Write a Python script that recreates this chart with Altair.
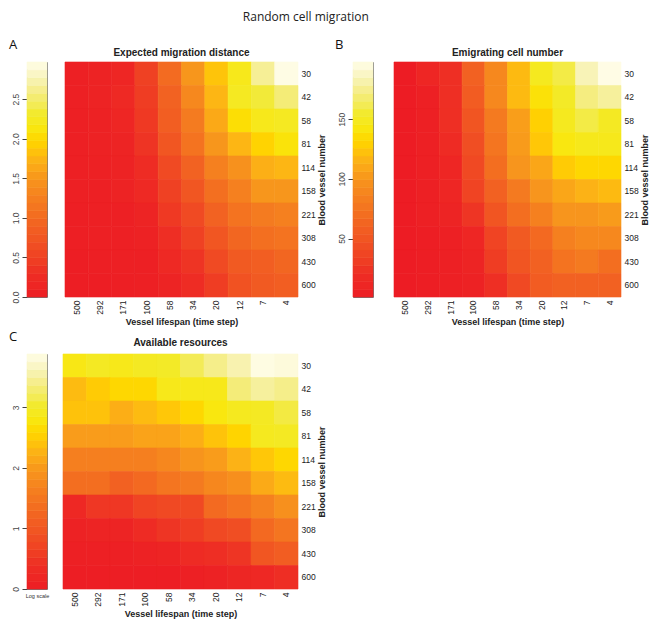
import altair as alt
import pandas as pd

lifespans = ["500", "292", "171", "100", "58", "34", "20", "12", "7", "4"]
vessels = ["30", "42", "58", "81", "114", "158", "221", "308", "430", "600"]

# Panel A: expected migration distance (rows = vessels top->bottom, cols = lifespans)
dist_30 = [0.05, 0.10, 0.15, 0.50, 1.00, 1.50, 1.85, 2.20, 2.65, 2.95]
dist_42 = [0.05, 0.10, 0.20, 0.45, 0.90, 1.35, 1.75, 2.25, 2.35, 2.55]
dist_58 = [0.05, 0.08, 0.15, 0.40, 0.85, 1.20, 1.65, 2.05, 2.20, 2.25]
dist_81 = [0.05, 0.08, 0.12, 0.35, 0.75, 1.10, 1.50, 1.75, 1.95, 2.10]
dist_114 = [0.05, 0.07, 0.10, 0.25, 0.60, 0.90, 1.25, 1.45, 1.70, 1.75]
dist_158 = [0.05, 0.06, 0.10, 0.20, 0.50, 0.75, 1.05, 1.25, 1.50, 1.50]
dist_221 = [0.04, 0.05, 0.06, 0.12, 0.40, 0.60, 0.90, 1.10, 1.20, 1.25]
dist_308 = [0.04, 0.05, 0.05, 0.08, 0.30, 0.50, 0.75, 0.95, 1.05, 1.10]
dist_430 = [0.03, 0.04, 0.05, 0.06, 0.20, 0.35, 0.60, 0.80, 0.85, 0.95]
dist_600 = [0.03, 0.03, 0.04, 0.05, 0.12, 0.25, 0.45, 0.70, 0.80, 0.85]

# Panel B: emigrating cell number
emig_30 = [1, 11, 21, 60, 90, 119, 149, 159, 184, 197]
emig_42 = [1, 5, 21, 56, 90, 119, 139, 153, 172, 178]
emig_58 = [1, 5, 21, 50, 80, 105, 129, 149, 159, 151]
emig_81 = [1, 5, 17, 44, 76, 103, 125, 143, 147, 147]
emig_114 = [1, 5, 11, 40, 70, 100, 109, 127, 133, 133]
emig_158 = [1, 5, 11, 36, 60, 80, 100, 109, 115, 119]
emig_221 = [1, 5, 9, 25, 50, 70, 84, 100, 100, 103]
emig_308 = [1, 3, 5, 11, 36, 54, 66, 84, 90, 90]
emig_430 = [1, 3, 5, 9, 31, 50, 60, 74, 80, 70]
emig_600 = [1, 3, 5, 7, 21, 40, 56, 60, 60, 60]

# Panel C: available resources (log scale)
res_30 = [2.83, 2.95, 2.87, 2.95, 2.99, 3.18, 3.41, 3.57, 3.84, 3.80]
res_42 = [2.33, 2.48, 2.60, 2.60, 2.87, 2.87, 2.87, 3.34, 3.49, 3.41]
res_58 = [2.40, 2.40, 2.21, 2.33, 2.44, 2.60, 2.79, 2.91, 2.95, 3.10]
res_81 = [2.02, 2.02, 2.02, 2.10, 2.10, 2.21, 2.41, 2.56, 2.91, 2.95]
res_114 = [1.63, 1.63, 1.63, 1.63, 1.75, 1.94, 2.02, 2.25, 2.44, 2.60]
res_158 = [1.36, 1.36, 1.16, 1.28, 1.47, 1.55, 1.75, 1.86, 2.17, 2.33]
res_221 = [0.25, 0.50, 0.50, 0.70, 0.78, 0.78, 1.30, 1.45, 1.65, 1.88]
res_308 = [0.12, 0.16, 0.16, 0.31, 0.47, 0.58, 0.78, 0.85, 1.28, 1.47]
res_430 = [0.08, 0.08, 0.08, 0.12, 0.16, 0.31, 0.39, 0.47, 0.97, 1.09]
res_600 = [0.04, 0.04, 0.04, 0.04, 0.04, 0.08, 0.12, 0.19, 0.23, 0.39]

dist_rows = [dist_30, dist_42, dist_58, dist_81, dist_114, dist_158, dist_221, dist_308, dist_430, dist_600]
emig_rows = [emig_30, emig_42, emig_58, emig_81, emig_114, emig_158, emig_221, emig_308, emig_430, emig_600]
res_rows = [res_30, res_42, res_58, res_81, res_114, res_158, res_221, res_308, res_430, res_600]

# colour ramp (fraction of range -> colour)
ramp_fracs = [0.0, 0.10, 0.20, 0.30, 0.40, 0.50, 0.58, 0.66, 0.72, 0.78, 0.86, 0.93, 1.0]
ramp_colors = ["#ED1C24", "#EE2E24", "#F04923", "#F26122", "#F47A20", "#F7941D",
               "#FCB216", "#FFD400", "#F9E70F", "#F2EA2A", "#F4EC78", "#F8F3B8", "#FFFDE9"]
NBANDS = 30
LABEL_FONT = "Liberation Sans"


def long_table(rows):
    recs = []
    for v, row in zip(vessels, rows):
        for l, val in zip(lifespans, row):
            recs.append({"lifespan": l, "vessels": v, "value": val})
    return pd.DataFrame(recs)


def color_scale(cmin, cmax):
    return alt.Scale(domain=[cmin + f * (cmax - cmin) for f in ramp_fracs], range=ramp_colors)


def heat(rows, title, cmin, cmax, w, toff):
    return alt.Chart(long_table(rows)).mark_rect(strokeWidth=0.6).encode(
        x=alt.X("lifespan:N", sort=lifespans,
                scale=alt.Scale(paddingInner=0, paddingOuter=0),
                axis=alt.Axis(title="Vessel lifespan (time step)", labelAngle=270, ticks=False,
                              domain=False, labelPadding=3, titlePadding=3,
                              labelFont=LABEL_FONT, labelFontSize=8.5, labelColor="#222",
                              titleFont=LABEL_FONT, titleFontSize=9, titleFontWeight="bold",
                              titleColor="#222")),
        y=alt.Y("vessels:N", sort=vessels,
                scale=alt.Scale(paddingInner=0, paddingOuter=0),
                axis=alt.Axis(orient="right", title="Blood vessel number", titleAngle=270,
                              titleBaseline="top",
                              ticks=False, domain=False, labelPadding=3, titlePadding=2,
                              labelFont=LABEL_FONT, labelFontSize=8.5, labelColor="#222",
                              titleFont=LABEL_FONT, titleFontSize=9, titleFontWeight="bold",
                              titleColor="#222")),
        color=alt.Color("value:Q", scale=color_scale(cmin, cmax), legend=None),
        stroke=alt.Stroke("value:Q", scale=color_scale(cmin, cmax), legend=None),
    ).properties(
        width=w, height=235,
        view=alt.ViewBackground(stroke=None),
        title=alt.TitleParams(title, font=LABEL_FONT, fontSize=10, fontWeight="bold",
                              color="#222", offset=toff),
    )


def cbar(cmin, cmax, ticks, fmt, letter, loff, xtitle=""):
    step = (cmax - cmin) / NBANDS
    if xtitle:
        xax = alt.Axis(title=xtitle, labels=False, ticks=False, domain=False,
                       titleFont=LABEL_FONT, titleFontSize=5.5, titleFontWeight="normal",
                       titleColor="#333", titlePadding=4)
    else:
        xax = None
    return alt.Chart(alt.sequence(0, NBANDS, as_="i")).transform_calculate(
        lo=f"{cmin} + datum.i * {step}",
        hi=f"{cmin} + (datum.i + 1) * {step}",
        mid=f"{cmin} + (datum.i + 0.5) * {step}",
        k="'k'",
    ).mark_rect(strokeWidth=0.6).encode(
        x=alt.X("k:N", scale=alt.Scale(paddingInner=0, paddingOuter=0), axis=xax),
        y=alt.Y("lo:Q", scale=alt.Scale(domain=[cmin, cmax], nice=False, zero=False),
                axis=alt.Axis(values=ticks, format=fmt, labelAngle=270, title=None, grid=False,
                              domain=False, tickSize=5, tickColor="#444", labelPadding=2,
                              labelFont=LABEL_FONT, labelFontSize=8.5, labelColor="#444",
                              labelAlign="center", labelBaseline="bottom")),
        y2="hi:Q",
        color=alt.Color("mid:Q", scale=color_scale(cmin, cmax), legend=None),
        stroke=alt.Stroke("mid:Q", scale=color_scale(cmin, cmax), legend=None),
    ).properties(
        width=20, height=235,
        view=alt.ViewBackground(stroke="#777", strokeWidth=1),
        title=alt.TitleParams(letter, anchor="start", dx=-2, font="Open Sans", fontSize=13,
                              fontWeight="normal", color="#111", offset=loff),
    )


cbA = cbar(0, 2.97, [0, 0.5, 1.0, 1.5, 2.0, 2.5], ".1f", "A", 10)
heatA = heat(dist_rows, "Expected migration distance", 0, 2.97, 233, 4)
cbB = cbar(1, 198, [50, 100, 150], "d", "B", 10)
heatB = heat(emig_rows, "Emigrating cell number", 1, 198, 227, 4)
cbC = cbar(0, 3.88, [0, 1, 2, 3], "d", "C", 10, "Log scale")
heatC = heat(res_rows, "Available resources", 0, 3.88, 235, 6)

pairA = alt.hconcat(cbA, heatA, spacing=18, bounds="flush").resolve_scale(color="independent", stroke="independent")
pairB = alt.hconcat(cbB, heatB, spacing=21, bounds="flush").resolve_scale(color="independent", stroke="independent")
row1 = alt.hconcat(pairA, pairB, spacing=7).resolve_scale(color="independent", stroke="independent")
row2 = alt.hconcat(cbC, heatC, spacing=16, bounds="flush").resolve_scale(color="independent", stroke="independent")

chart = alt.vconcat(row1, row2, spacing=3).resolve_scale(
    color="independent", stroke="independent"
).properties(
    padding={"left": 0, "top": 3, "right": 0, "bottom": 0},
    title=alt.TitleParams("Random cell migration", font="Open Sans", fontSize=12,
                          fontWeight="normal", color="#222", anchor="middle", dx=-23, offset=14),
).configure_view(stroke=None)

chart.save("out.html", embed_options={"renderer": "svg", "actions": False})
